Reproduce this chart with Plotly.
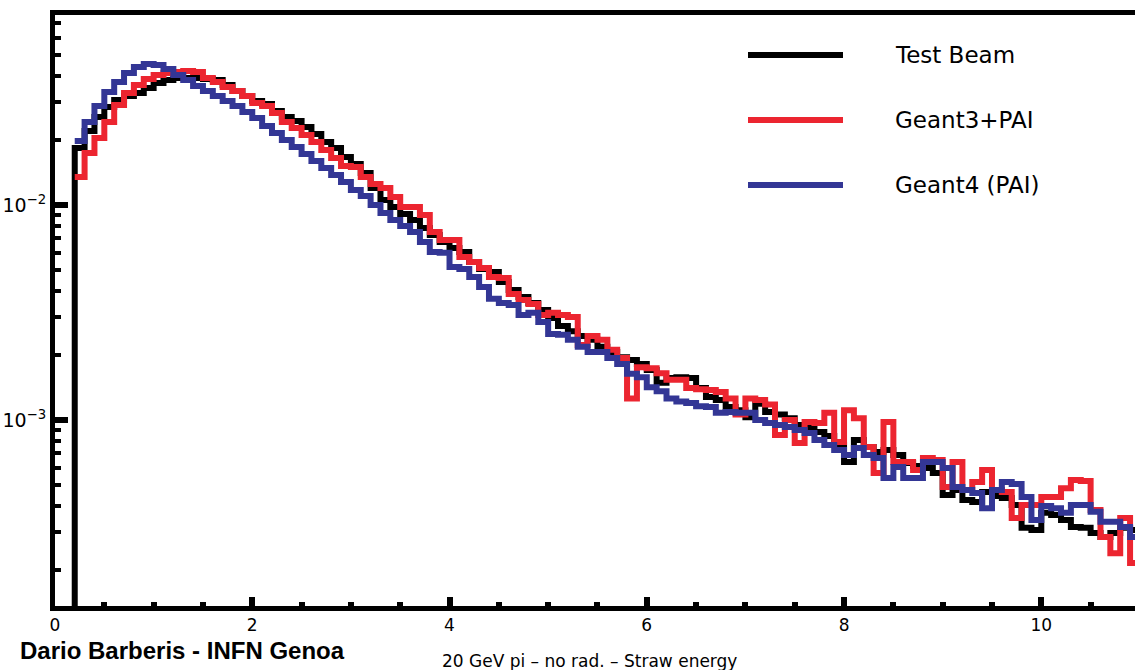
import numpy as np
import plotly.graph_objects as go

# ---------------- data (bin width 0.1, values per bin) ----------------
bin_width = 0.1
test_beam_first_bin = 1   # first bin index (x = 0.1)
test_beam = [
    0, 0.01842, 0.02209, 0.02566, 0.02857, 0.03079, 0.03214, 0.03319, 0.03501, 0.03694,
    0.03815, 0.03898, 0.03898, 0.03898, 0.03856, 0.03815, 0.03616, 0.03390, 0.03214, 0.03046,
    0.02951, 0.02737, 0.02566, 0.02459, 0.02306, 0.02140, 0.01964, 0.01842, 0.01672, 0.01552,
    0.01409, 0.01200, 0.01055, 0.00979, 0.00908, 0.00852, 0.00782, 0.00725, 0.00673, 0.00631,
    0.00605, 0.00543, 0.00504, 0.00488, 0.00438, 0.00402, 0.00373, 0.00350, 0.00325, 0.00298,
    0.00274, 0.00259, 0.00246, 0.00236, 0.00219, 0.00207, 0.00196, 0.00190, 0.00182, 0.00171,
    0.00149, 0.00157, 0.00158, 0.00157, 0.00141, 0.00128, 0.00124, 0.00115, 0.00111, 0.00103,
    0.00119, 0.00109, 0.00106, 0.00102, 0.000948, 0.000918, 0.000880, 0.000843, 0.000765, 0.000638,
    0.000807, 0.000749, 0.000710, 0.000725, 0.000687, 0.000631, 0.000611, 0.000598, 0.000567, 0.000448,
    0.000472, 0.000425, 0.000416, 0.000463, 0.000443, 0.000434, 0.000402, 0.000315, 0.000308, 0.000370,
    0.000362, 0.000343, 0.000318, 0.000315, 0.000298, 0.000286, 0.000298, 0.000315, 0.000308,
]

geant3_first_bin = 2      # x = 0.2
geant3_pai = [
    0.01350, 0.01746, 0.02050, 0.02433, 0.02919, 0.03319, 0.03616, 0.03856, 0.04024,
    0.04111, 0.04156, 0.04201, 0.04156, 0.03898, 0.03734, 0.03539, 0.03390, 0.03214, 0.02983,
    0.02888, 0.02679, 0.02433, 0.02282, 0.02117, 0.01964, 0.01803, 0.01655, 0.01519, 0.01503,
    0.01350, 0.01252, 0.01200, 0.01090, 0.00979, 0.00979, 0.00899, 0.00749, 0.00687, 0.00687,
    0.00573, 0.00543, 0.00509, 0.00462, 0.00458, 0.00386, 0.00362, 0.00346, 0.00308, 0.00315,
    0.00308, 0.00301, 0.00223, 0.00246, 0.00236, 0.00212, 0.00194, 0.00126, 0.00176, 0.00174,
    0.00165, 0.00154, 0.00154, 0.00141, 0.00139, 0.00138, 0.00135, 0.00126, 0.00106, 0.00126,
    0.00124, 0.00118, 0.000852, 0.00100, 0.000781, 0.000979, 0.000969, 0.00108, 0.000790, 0.00111,
    0.00102, 0.000749, 0.000567, 0.000979, 0.000638, 0.000638, 0.000585, 0.000665, 0.000652, 0.000488,
    0.000638, 0.000472, 0.000515, 0.000585, 0.000472, 0.000463, 0.000350, 0.000402, 0.000402, 0.000438,
    0.000438, 0.000482, 0.000526, 0.000520, 0.000381, 0.000286, 0.000240, 0.000350, 0.000216,
]

geant4_first_bin = 2      # x = 0.2
geant4_pai = [
    0.01985, 0.02433, 0.02888, 0.03355, 0.03734, 0.04111, 0.04384, 0.04528, 0.04479,
    0.04292, 0.04024, 0.03815, 0.03577, 0.03390, 0.03214, 0.03046, 0.02888, 0.02708, 0.02540,
    0.02331, 0.02163, 0.02006, 0.01862, 0.01727, 0.01603, 0.01487, 0.01379, 0.01280, 0.01175,
    0.01102, 0.01000, 0.00918, 0.00852, 0.00799, 0.00749, 0.00673, 0.00605, 0.00599, 0.00515,
    0.00504, 0.00462, 0.00415, 0.00366, 0.00350, 0.00343, 0.00308, 0.00315, 0.00286, 0.00251,
    0.00249, 0.00236, 0.00219, 0.00207, 0.00207, 0.00194, 0.00182, 0.00164, 0.00158, 0.00142,
    0.00136, 0.00126, 0.00122, 0.00120, 0.00116, 0.00115, 0.00108, 0.00109, 0.00108, 0.00108,
    0.00100, 0.000969, 0.000948, 0.000928, 0.000899, 0.000870, 0.000807, 0.000765, 0.000725, 0.000687,
    0.000741, 0.000687, 0.000665, 0.000537, 0.000605, 0.000537, 0.000537, 0.000638, 0.000638, 0.000598,
    0.000488, 0.000472, 0.000458, 0.000389, 0.000472, 0.000515, 0.000504, 0.000438, 0.000343, 0.000398,
    0.000389, 0.000370, 0.000402, 0.000402, 0.000374, 0.000336, 0.000336, 0.000318, 0.000286,
]

series_names = ["Test Beam", "Geant3+PAI", "Geant4 (PAI)"]
x_tick_values = [0, 2, 4, 6, 8, 10]
x_tick_labels = ["0", "2", "4", "6", "8", "10"]
y_tick_values = [1e-3, 1e-2]
y_tick_labels = ["10<sup>\u22123</sup>", "10<sup>\u22122</sup>"]
bottom_note = "20 GeV pi \u2013 no rad. \u2013 Straw energy"
author = "Dario Barberis - INFN Genoa"

# ---------------- styling ----------------
colors = ["#000000", "#ec2530", "#333695"]
FONT = "DejaVu Sans"


def step_xy(first_bin, values):
    v = np.asarray(values, dtype=float)
    lo = (np.arange(len(v)) + first_bin) * bin_width
    x = np.append(lo, lo[-1] + bin_width)
    y = np.append(v, v[-1])
    y = np.where(y <= 0, 1e-9, y)  # empty bins fall off the log axis
    return x, y


fig = go.Figure()
for name, first, vals, col in [
    (series_names[0], test_beam_first_bin, test_beam, colors[0]),
    (series_names[1], geant3_first_bin, geant3_pai, colors[1]),
    (series_names[2], geant4_first_bin, geant4_pai, colors[2]),
]:
    x, y = step_xy(first, vals)
    fig.add_trace(go.Scatter(x=x, y=y, mode="lines", name=name,
                             line=dict(color=col, width=6, shape="hv"),
                             showlegend=False))

# plot-area geometry (pixels) for the hand-drawn legend
L, R, T, B = 55, 1135, 15, 606
W, H = R - L, B - T


def px(xp):
    return (xp - L) / W


def py(yp):
    return (B - yp) / H


legend_rows = [55, 120, 185]
for name, col, yy in zip(series_names, colors, legend_rows):
    fig.add_shape(type="line", xref="paper", yref="paper",
                  x0=px(748), x1=px(843), y0=py(yy), y1=py(yy),
                  line=dict(color=col, width=6))
    fig.add_annotation(xref="paper", yref="paper", x=px(893), y=py(yy),
                       xanchor="left", yanchor="middle", text=name,
                       showarrow=False,
                       font=dict(family=FONT, size=23, color="black"))

fig.add_annotation(xref="paper", yref="paper", x=px(18), y=py(650),
                   xanchor="left", yanchor="middle", text="<b>" + author + "</b>",
                   showarrow=False,
                   font=dict(family="Liberation Sans", size=24, color="black"))
fig.add_annotation(xref="paper", yref="paper", x=px(440), y=py(661),
                   xanchor="left", yanchor="middle", text=bottom_note,
                   showarrow=False,
                   font=dict(family=FONT, size=17, color="black"))

minor_y = [m * 10.0 ** e for e in (-4, -3, -2) for m in range(2, 10)]

fig.update_layout(
    width=1135, height=670,
    margin=dict(l=L, r=1135 - R, t=T, b=670 - B),
    paper_bgcolor="white", plot_bgcolor="white",
    font=dict(family=FONT, size=17, color="black"),
    xaxis=dict(
        range=[0, 10.95], showgrid=False, zeroline=False,
        showline=True, linewidth=5, linecolor="black", mirror=True,
        ticks="inside", ticklen=9, tickwidth=6, tickcolor="black",
        tickmode="array", tickvals=x_tick_values, ticktext=x_tick_labels,
        tickfont=dict(family=FONT, size=17),
        minor=dict(ticks="inside", ticklen=4, tickwidth=6, tickcolor="black",
                   dtick=0.5, tick0=0, showgrid=False),
    ),
    yaxis=dict(
        type="log", range=[-3.8651, -1.1163], showgrid=False, zeroline=False,
        showline=True, linewidth=5, linecolor="black", mirror=False,
        ticks="inside", ticklen=13, tickwidth=6, tickcolor="black",
        tickmode="array", tickvals=y_tick_values, ticktext=y_tick_labels,
        tickfont=dict(family=FONT, size=19),
        minor=dict(ticks="inside", ticklen=6, tickwidth=4, tickcolor="black",
                   tickmode="array", tickvals=minor_y, showgrid=False),
    ),
)

fig.write_html("out.html")
